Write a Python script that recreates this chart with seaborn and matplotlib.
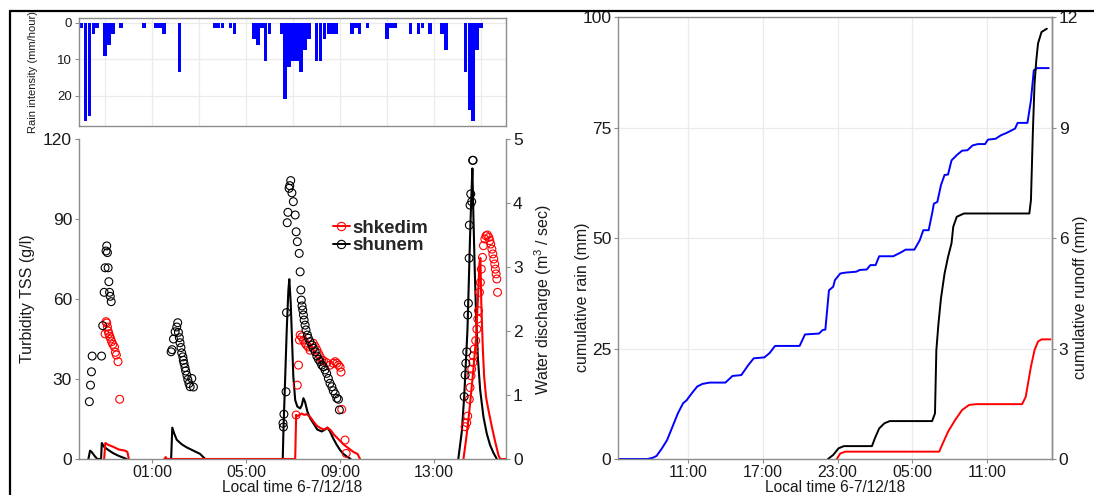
import matplotlib
matplotlib.use("Agg")
import matplotlib.pyplot as plt
from matplotlib.lines import Line2D
from matplotlib.ticker import FuncFormatter
import numpy as np
import pandas as pd
import seaborn as sns

# ---------------------------------------------------------------------------
# Data.  Times are decimal hours counted from 00:00 on 6/12/18
# (so 25.5 means 01:30 on 7/12/18).
# ---------------------------------------------------------------------------

# 10-minute rain intensity (mm/hour), storm of 6-7/12/18
rain_clock = ["22:00", "22:10", "22:20", "22:30", "22:40", "23:00", "23:10", "23:20",
              "23:40", "00:40", "01:10", "01:20", "01:30", "02:10", "03:40", "03:50",
              "04:00", "04:20", "04:30", "05:20", "05:30", "05:40", "05:50", "06:00",
              "06:30", "06:40", "06:50", "07:00", "07:10", "07:20", "07:30", "07:40",
              "08:00", "08:10", "08:20", "08:30", "08:40", "08:50", "09:30", "09:40",
              "09:50", "10:10", "11:00", "11:10", "11:20", "12:00", "12:20", "12:30",
              "12:50", "13:20", "13:30", "14:20", "14:30", "14:40", "14:50", "15:00"]
rain_intensity = [1.5, 27.0, 25.5, 3.0, 1.5, 9.0, 6.0, 3.0,
                  1.5, 1.5, 1.5, 1.5, 3.0, 13.5, 1.5, 1.5,
                  1.5, 1.5, 3.0, 4.5, 6.0, 1.5, 10.5, 3.0,
                  3.0, 21.0, 12.0, 10.5, 10.5, 13.5, 7.5, 4.5,
                  10.5, 10.5, 4.5, 3.0, 3.0, 3.0, 3.0, 1.5,
                  3.0, 1.5, 4.5, 1.5, 1.5, 3.0, 3.0, 1.5,
                  3.0, 3.0, 7.5, 13.5, 24.0, 27.0, 7.5, 1.5]

# Turbidity (TSS, g/l) samples
shunem_tss_time = [22.33, 22.38, 22.42, 22.45, 22.85, 22.90, 22.96, 23.00, 23.04, 23.07,
                   23.10, 23.13, 23.16, 23.19, 23.22, 23.26,
                   25.81, 25.85, 25.91, 25.98, 26.05, 26.09, 26.12, 26.16, 26.19, 26.23,
                   26.26, 26.31, 26.33, 26.36, 26.40, 26.43, 26.48, 26.52, 26.57, 26.62,
                   26.69, 26.76,
                   30.57, 30.59, 30.61, 30.70, 30.72, 30.75, 30.78, 30.83, 30.86, 30.90,
                   30.95, 31.01, 31.09, 31.13, 31.18, 31.26, 31.30, 31.33, 31.35, 31.38,
                   31.41, 31.44, 31.47, 31.51, 31.55, 31.61, 31.65, 31.72, 31.80, 31.86,
                   31.94, 32.01, 32.08, 32.15, 32.22, 32.29, 32.36, 32.43, 32.50, 32.57,
                   32.65, 32.71, 32.79, 32.86, 32.93, 32.97,
                   38.28, 38.32, 38.35, 38.39, 38.43, 38.46, 38.49, 38.50, 38.53, 38.56,
                   38.60, 38.64, 38.66]
shunem_tss = [21.5, 27.7, 32.7, 38.6, 38.6, 50.0, 62.5, 71.7, 78.0, 79.9,
              77.4, 71.7, 66.5, 62.5, 61.0, 59.0,
              40.2, 41.0, 45.0, 47.7, 49.5, 51.1, 47.5, 45.5, 43.6, 41.8,
              39.8, 38.3, 37.0, 35.8, 34.3, 33.0, 31.4, 29.8, 28.3, 27.1,
              30.2, 27.0,
              13.4, 12.0, 16.8, 25.2, 54.9, 88.6, 92.5, 101.5, 102.5, 104.4,
              99.8, 96.5, 91.5, 85.2, 81.5, 77.1, 70.2, 63.4, 59.6, 57.4,
              55.9, 54.0, 52.1, 50.2, 48.4, 46.5, 45.3, 44.0, 42.7, 41.5,
              40.2, 38.6, 37.4, 36.5, 35.2, 34.6, 33.4, 32.1, 30.2, 28.4,
              27.1, 25.6, 24.4, 22.8, 22.4, 18.4,
              23.4, 31.5, 35.9, 40.2, 54.0, 58.4, 75.3, 87.7, 95.2, 99.4,
              96.5, 112.0, 112.0]

shkedim_tss_time = [23.00, 23.04, 23.07, 23.10, 23.13, 23.16, 23.20, 23.24, 23.28, 23.33,
                    23.40, 23.44, 23.48, 23.55, 23.62,
                    31.13, 31.18, 31.23, 31.27, 31.30, 31.37, 31.44, 31.51, 31.58, 31.65,
                    31.72, 31.86, 31.94, 32.01, 32.08, 32.15, 32.22, 32.29, 32.43, 32.57,
                    32.71, 32.79, 32.86, 32.93, 33.00, 33.04, 33.07, 33.21, 33.26,
                    38.32, 38.39, 38.43, 38.50, 38.53, 38.57, 38.60, 38.65, 38.67, 38.71,
                    38.77, 38.82, 38.86, 38.89, 38.93, 38.97, 39.01, 39.06, 39.10, 39.16,
                    39.21, 39.27, 39.33, 39.37, 39.41, 39.46, 39.50, 39.54, 39.58, 39.61,
                    39.64, 39.67, 39.70]
shkedim_tss = [46.9, 51.5, 51.0, 49.5, 48.0, 47.0, 46.0, 45.0, 44.0, 43.0,
               42.0, 40.0, 39.0, 36.5, 22.4,
               16.5, 27.7, 35.2, 44.6, 46.5, 45.8, 44.6, 43.5, 42.6, 42.0,
               40.8, 43.4, 42.2, 40.9, 39.6, 38.4, 37.1, 36.9, 36.1, 35.2,
               35.9, 36.5, 35.9, 35.2, 34.4, 32.6, 18.6, 7.1, 2.1,
               12.1, 13.6, 16.1, 22.4, 26.8, 31.2, 33.7, 36.2, 38.7, 41.2,
               44.4, 48.7, 52.5, 55.6, 62.5, 66.2, 71.2, 75.6, 80.0, 82.5,
               83.7, 84.0, 83.1, 81.9, 80.6, 78.7, 76.9, 75.0, 73.1, 71.2,
               69.4, 67.5, 62.5]

# Water discharge (m3/sec), one list per flow event
shunem_q_time = [
    [22.29, 22.36, 22.43, 22.57, 22.67, 22.83, 22.86, 22.96, 23.14, 23.35, 23.57, 23.78, 23.92],
    [25.81, 25.86, 25.94, 26.05, 26.26, 26.48, 26.76, 27.04, 27.26],
    [30.56, 30.59, 30.66, 30.73, 30.80, 30.84, 30.90, 30.96, 31.01, 31.09,
     31.18, 31.30, 31.37, 31.44, 31.51, 31.61, 31.72, 31.86, 32.03, 32.22,
     32.36, 32.46, 32.57, 32.71, 32.86, 33.00, 33.14, 33.28, 33.45],
    [38.03, 38.18, 38.28, 38.35, 38.42, 38.48, 38.53, 38.59, 38.63, 38.67,
     38.73, 38.79, 38.86, 38.96, 39.10, 39.24, 39.38, 39.52, 39.67],
]
shunem_q = [
    [0, 0.13, 0.11, 0.04, 0, 0, 0.25, 0.19, 0.14, 0.09, 0.05, 0.02, 0],
    [0, 0.49, 0.40, 0.30, 0.23, 0.18, 0.13, 0.08, 0],
    [0, 0.45, 1.23, 2.02, 2.64, 2.81, 2.43, 1.81, 1.29, 0.92,
     0.82, 0.79, 0.84, 0.95, 0.89, 0.74, 0.64, 0.56, 0.46, 0.43,
     0.46, 0.49, 0.43, 0.32, 0.22, 0.14, 0.08, 0.04, 0],
    [0, 0.43, 0.97, 1.49, 2.02, 2.80, 3.47, 4.15, 4.54, 3.84,
     2.95, 2.22, 1.60, 1.08, 0.66, 0.40, 0.22, 0.10, 0],
]
shkedim_q_time = [
    [22.96, 23.01, 23.14, 23.35, 23.57, 23.71, 23.85, 23.95, 24.01],
    [25.52, 25.58, 25.63, 31.09, 31.13, 31.18, 31.37, 31.47, 31.58, 31.72,
     31.86, 32.01, 32.18, 32.32, 32.46, 32.60, 32.74, 32.93, 33.14, 33.35,
     33.57, 33.74, 33.85],
    [38.25, 38.36, 38.46, 38.56, 38.67, 38.79, 38.87, 38.93, 38.97, 39.01,
     39.07, 39.13, 39.21, 39.31, 39.46, 39.60, 39.74, 39.81, 40.10],
]
shkedim_q = [
    [0, 0.25, 0.22, 0.19, 0.15, 0.14, 0.13, 0.11, 0],
    [0, 0.03, 0, 0, 0.69, 0.67, 0.71, 0.69, 0.70, 0.66,
     0.59, 0.52, 0.48, 0.46, 0.49, 0.45, 0.38, 0.31, 0.23, 0.17,
     0.11, 0.08, 0],
    [0, 0.30, 0.61, 0.97, 1.39, 1.91, 2.54, 3.06, 3.14, 2.43,
     1.75, 1.29, 0.97, 0.77, 0.50, 0.27, 0.06, 0, 0],
]

# Cumulative rain (mm)
cum_rain_time = [5.37, 7.73, 8.16, 8.44, 8.87, 9.29, 9.72, 10.15, 10.57, 10.86,
                 11.28, 11.71, 12.13, 12.71, 13.98, 14.55, 15.26, 15.83, 16.26, 17.11,
                 17.54, 17.97, 19.95, 20.38, 21.51, 21.80, 22.02, 22.31, 22.65, 22.79,
                 23.22, 23.64, 24.50, 24.79, 25.35, 25.64, 26.06, 26.35, 27.48, 28.05,
                 28.48, 29.18, 29.61, 29.90, 30.33, 30.61, 30.75, 31.03, 31.32, 31.61,
                 31.89, 32.17, 32.59, 33.02, 33.45, 33.87, 34.30, 34.87, 35.10, 35.72,
                 36.15, 36.58, 37.00, 37.28, 37.49, 38.28, 38.56, 38.79, 39.07, 39.99]
cum_rain = [0, 0, 0.3, 0.7, 2.4, 4.3, 7.3, 10.3, 12.6, 13.3,
            14.9, 16.4, 17.0, 17.3, 17.3, 18.8, 19.0, 21.3, 22.8, 23.0,
            24.0, 25.6, 25.6, 28.2, 28.4, 29.2, 29.3, 38.2, 39.0, 40.5,
            42.0, 42.2, 42.4, 42.8, 42.9, 43.9, 43.9, 45.9, 45.9, 46.7,
            47.4, 47.4, 49.5, 51.8, 51.8, 55.6, 57.8, 58.2, 62.0, 64.3,
            64.4, 67.6, 68.8, 69.8, 69.9, 71.0, 71.3, 71.3, 72.3, 72.5,
            73.3, 73.8, 74.4, 74.8, 76.1, 76.1, 81.2, 88.0, 88.5, 88.5]

# Cumulative runoff (mm)
cum_runoff_shunem_time = [22.23, 22.65, 23.08, 23.51, 25.77, 26.00, 26.35, 26.77, 27.20, 30.61,
                          30.84, 30.95, 31.12, 31.32, 31.61, 31.89, 32.17, 32.31, 32.59, 33.17,
                          38.43, 38.56, 38.71, 38.85, 38.99, 39.13, 39.41, 39.84]
cum_runoff_shunem = [0, 0.11, 0.29, 0.35, 0.35, 0.56, 0.83, 0.97, 1.03, 1.03,
                     1.24, 2.96, 3.68, 4.36, 5.04, 5.49, 5.86, 6.31, 6.58, 6.67,
                     6.67, 7.03, 8.84, 10.20, 10.83, 11.29, 11.60, 11.69]
cum_runoff_shkedim_time = [22.94, 23.22, 23.64, 31.18, 31.46, 31.89, 32.46, 33.02, 33.59, 34.16,
                           37.85, 38.14, 38.56, 38.85, 39.13, 39.41, 40.13]
cum_runoff_shkedim = [0, 0.15, 0.20, 0.20, 0.42, 0.74, 1.06, 1.33, 1.47, 1.49,
                      1.49, 1.69, 2.51, 2.96, 3.19, 3.25, 3.25]

site_colors = {"shkedim": "#ff0000", "shunem": "#000000"}


def clock_to_hours(clock):
    """Turn a chronological list of HH:MM strings into hours from 6/12 00:00."""
    out, day, prev = [], 0.0, None
    for c in clock:
        h, m = (int(p) for p in c.split(":"))
        v = h + m / 60.0
        if prev is not None and v < prev:
            day += 24.0
        prev = v
        out.append(v + day)
    return out


def hhmm(v, pos=None):
    return f"{int(round(v)) % 24:02d}:00"


# ---------------------------------------------------------------------------
# Styling
# ---------------------------------------------------------------------------
sns.set_theme(style="white")
plt.rcParams["font.family"] = ["Liberation Sans", "DejaVu Sans"]
plt.rcParams["mathtext.default"] = "regular"

SPINE = "#8c8c8c"
GRID = "#ebebeb"
TXT = "#1a1a1a"
YTICK_FS = 12.5
XTICK_FS = 11.5
LAB_FS = 11.5
XLAB_FS = 11.2

W, H = 1094, 495
fig = plt.figure(figsize=(W / 100, H / 100), dpi=100)


def box(l, t, r, b):
    return [l / W, 1 - b / H, (r - l) / W, (b - t) / H]


ax_rain = fig.add_axes(box(79, 18, 506, 126))
ax_tss = fig.add_axes(box(79, 139, 506, 459))
ax_cum = fig.add_axes(box(618.4, 17.3, 1051.7, 459))

x_left = (21.89, 40.06)
XLAB_BOTTOM = 494.6  # pixel row of the bottom of the x-axis titles

# ---------------- rain intensity (top left) ----------------
rain_df = pd.DataFrame({"t": clock_to_hours(rain_clock), "mm_h": rain_intensity})
sns.barplot(data=rain_df, x="t", y="mm_h", native_scale=True, width=0.9,
            color="#0000ff", saturation=1, errorbar=None, linewidth=0, ax=ax_rain)
ax_rain.set_xlim(*x_left)
ax_rain.set_ylim(28.35, -1.35)
ax_rain.set_xticks(np.arange(23, 40, 2))
ax_rain.set_xticklabels([])
ax_rain.set_yticks([0, 10, 20])
ax_rain.grid(True, color=GRID, lw=0.9)
ax_rain.set_axisbelow(True)
ax_rain.set_xlabel("")
ax_rain.set_ylabel("Rain intensity (mm/hour)", fontsize=8, color=TXT)
ax_rain.yaxis.set_label_coords((33 - 79) / 427, 0.5)
ax_rain.yaxis.label.set_va("center")
ax_rain.tick_params(axis="x", length=0)
ax_rain.tick_params(axis="y", left=True, length=3, width=0.8, color=SPINE,
                    labelsize=9.5, labelcolor=TXT, pad=2)
for s in ax_rain.spines.values():
    s.set_color(SPINE)
    s.set_linewidth(1.0)

# ---------------- turbidity + discharge (bottom left) ----------------
Q_SCALE = 120 / 5  # 5 m3/sec on the right axis spans the 120 g/l of the left axis

rows = []
for site, times, qs in (("shunem", shunem_q_time, shunem_q),
                        ("shkedim", shkedim_q_time, shkedim_q)):
    for i, (tt, qq) in enumerate(zip(times, qs)):
        for a, b in zip(tt, qq):
            rows.append({"site": site, "event": f"{site}-{i}", "t": a, "q": b})
q_df = pd.DataFrame(rows)
q_df["q_on_tss_axis"] = q_df["q"] * Q_SCALE

sns.lineplot(data=q_df, x="t", y="q_on_tss_axis", hue="site", units="event",
             estimator=None, palette=site_colors, linewidth=1.5, legend=False,
             ax=ax_tss)

for site, tt, vv in (("shkedim", shkedim_tss_time, shkedim_tss),
                     ("shunem", shunem_tss_time, shunem_tss)):
    col = site_colors[site]
    sns.scatterplot(x=tt, y=vv, s=32, marker="o", color=col, facecolor="none",
                    edgecolor=col, linewidth=0.8, ax=ax_tss, zorder=3)

ax_tss.set_xlim(*x_left)
ax_tss.set_ylim(0, 120)
ax_tss.set_yticks([0, 30, 60, 90, 120])
ax_tss.set_xticks([25, 29, 33, 37])
ax_tss.xaxis.set_major_formatter(FuncFormatter(hhmm))
ax_tss.set_xlabel("Local time 6-7/12/18", fontsize=XLAB_FS, color=TXT)
ax_tss.xaxis.set_label_coords(0.5, -(XLAB_BOTTOM - 459) / 320)
ax_tss.xaxis.label.set_va("bottom")
ax_tss.set_ylabel("Turbidity TSS (g/l)", fontsize=LAB_FS, color=TXT)
ax_tss.yaxis.set_label_coords((28 - 79) / 427, 0.5)
ax_tss.yaxis.label.set_va("center")
ax_tss.tick_params(axis="both", bottom=True, left=True, length=3, width=0.8,
                   color=SPINE, labelcolor=TXT, pad=2)
ax_tss.tick_params(axis="x", labelsize=XTICK_FS, pad=1.5)
ax_tss.tick_params(axis="y", labelsize=YTICK_FS)
ax_tss.spines["top"].set_visible(False)
ax_tss.spines["right"].set_visible(False)
for k in ("left", "bottom"):
    ax_tss.spines[k].set_color(SPINE)
    ax_tss.spines[k].set_linewidth(1.0)

sec_q = ax_tss.secondary_yaxis("right", functions=(lambda y: y / Q_SCALE,
                                                   lambda q: q * Q_SCALE))
sec_q.set_yticks([0, 1, 2, 3, 4, 5])
sec_q.set_ylabel("Water discharge (m$^3$ / sec)", fontsize=LAB_FS, color=TXT)
sec_q.yaxis.set_label_coords((543 - 79) / 427, 0.5, transform=ax_tss.transAxes)
sec_q.yaxis.label.set_va("center")
sec_q.tick_params(axis="y", right=True, length=3, width=0.8, color=SPINE,
                  labelsize=YTICK_FS, labelcolor=TXT, pad=2)
sec_q.spines["right"].set_color(SPINE)
sec_q.spines["right"].set_linewidth(1.0)

legend_handles = [
    Line2D([0], [0], color=site_colors[s], lw=1.4, marker="o", markersize=6,
           markerfacecolor="none", markeredgecolor=site_colors[s], markeredgewidth=0.8)
    for s in ("shkedim", "shunem")
]
ax_tss.legend(legend_handles, ["shkedim", "shunem"], loc="center left",
              bbox_to_anchor=((333 - 79) / 427, (459 - 237) / 320),
              frameon=False, handlelength=0.9, handletextpad=0.15,
              labelspacing=0.0, borderaxespad=0, borderpad=0,
              prop={"weight": "bold", "size": 13.5})

# ---------------- cumulative rain and runoff (right) ----------------
RO_SCALE = 100 / 12  # 12 mm of runoff on the right axis spans 100 mm of rain

sns.lineplot(x=cum_rain_time, y=cum_rain, color="#0000ff", linewidth=1.4,
             estimator=None, ax=ax_cum)
sns.lineplot(x=cum_runoff_shkedim_time, y=np.array(cum_runoff_shkedim) * RO_SCALE,
             color=site_colors["shkedim"], linewidth=1.4, estimator=None, ax=ax_cum)
sns.lineplot(x=cum_runoff_shunem_time, y=np.array(cum_runoff_shunem) * RO_SCALE,
             color=site_colors["shunem"], linewidth=1.4, estimator=None, ax=ax_cum)

ax_cum.set_xlim(5.37, 40.23)
ax_cum.set_ylim(0, 100)
ax_cum.set_xticks([11, 17, 23, 29, 35])
ax_cum.xaxis.set_major_formatter(FuncFormatter(hhmm))
ax_cum.set_yticks([0, 25, 50, 75, 100])
ax_cum.grid(True, color=GRID, lw=0.9)
ax_cum.set_axisbelow(True)
ax_cum.set_xlabel("Local time 6-7/12/18", fontsize=XLAB_FS, color=TXT)
ax_cum.xaxis.set_label_coords(0.5, -(XLAB_BOTTOM - 459) / 441.7)
ax_cum.xaxis.label.set_va("bottom")
ax_cum.set_ylabel("cumulative rain (mm)", fontsize=LAB_FS, color=TXT)
ax_cum.yaxis.set_label_coords((582 - 618.4) / 433.3, (459 - 297) / 441.7)
ax_cum.yaxis.label.set_va("center")
ax_cum.tick_params(axis="both", bottom=True, left=True, length=3, width=0.8,
                   color=SPINE, labelcolor=TXT, pad=2)
ax_cum.tick_params(axis="x", labelsize=XTICK_FS, pad=1.5)
ax_cum.tick_params(axis="y", labelsize=YTICK_FS)
for s in ax_cum.spines.values():
    s.set_color(SPINE)
    s.set_linewidth(1.0)

sec_ro = ax_cum.secondary_yaxis("right", functions=(lambda y: y / RO_SCALE,
                                                    lambda r: r * RO_SCALE))
sec_ro.set_yticks([0, 3, 6, 9, 12])
sec_ro.set_ylabel("cumulative runoff (mm)", fontsize=LAB_FS, color=TXT)
sec_ro.yaxis.set_label_coords((1080 - 618.4) / 433.3, (459 - 297) / 441.7,
                              transform=ax_cum.transAxes)
sec_ro.yaxis.label.set_va("center")
sec_ro.tick_params(axis="y", right=True, length=3, width=0.8, color=SPINE,
                   labelsize=YTICK_FS, labelcolor=TXT, pad=2)
sec_ro.spines["right"].set_color(SPINE)
sec_ro.spines["right"].set_linewidth(1.0)

# outer frame (top and left edges)
fig.add_artist(Line2D([10 / W, 1.0], [1 - 11 / H, 1 - 11 / H], color="black", lw=1.6))
fig.add_artist(Line2D([10 / W, 10 / W], [0.0, 1 - 11 / H], color="black", lw=1.6))

fig.savefig("out.png", dpi=100)
